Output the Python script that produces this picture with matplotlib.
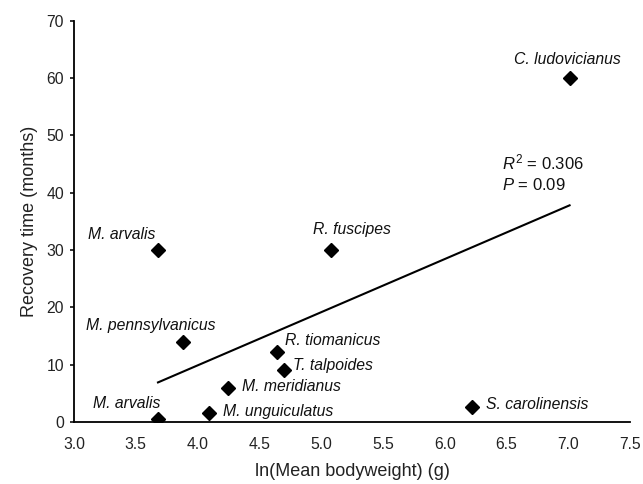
import numpy as np
import matplotlib
matplotlib.use("Agg")
import matplotlib.pyplot as plt

plt.rcParams['font.family'] = ['Liberation Sans', 'DejaVu Sans']
plt.rcParams['mathtext.fontset'] = 'custom'
plt.rcParams['mathtext.rm'] = 'Liberation Sans'
plt.rcParams['mathtext.it'] = 'Liberation Sans:italic'

# species data
species = ['M. arvalis', 'M. arvalis', 'M. pennsylvanicus', 'M. unguiculatus',
           'M. meridianus', 'R. tiomanicus', 'T. talpoides', 'R. fuscipes',
           'S. carolinensis', 'C. ludovicianus']
log_weight = [3.68, 3.68, 3.88, 4.09, 4.25, 4.64, 4.70, 5.08, 6.22, 7.01]
recovery = [30, 0.5, 14, 1.6, 6, 12.2, 9, 30, 2.6, 60]

# label anchor (x, y, ha, va)
label_pos = [(3.39, 31.4, 'center', 'bottom'),
             (3.43, 2.0, 'center', 'bottom'),
             (3.62, 15.5, 'center', 'bottom'),
             (4.21, 1.9, 'left', 'center'),
             (4.36, 6.2, 'left', 'center'),
             (4.71, 14.3, 'left', 'center'),
             (4.77, 9.95, 'left', 'center'),
             (5.25, 32.2, 'center', 'bottom'),
             (6.33, 3.1, 'left', 'center'),
             (6.99, 62.0, 'center', 'bottom')]

fig = plt.figure(figsize=(6.43, 4.84), dpi=100)
ax = fig.add_axes([0.115, 0.128, 0.865, 0.829])

ax.plot(log_weight, recovery, 'D', color='black', markersize=7)

# linear fit
slope, intercept = np.polyfit(log_weight, recovery, 1)
fx = np.array([min(log_weight), max(log_weight)])
ax.plot(fx, slope * fx + intercept, color='black', lw=1.5)

for name, (x, y, ha, va) in zip(species, label_pos):
    ax.text(x, y, name, style='italic', fontsize=11.3, ha=ha, va=va, color='#111111')

ax.text(6.46, 45.3, '$R^2$ = 0.306', fontsize=12, va='center', color='#111111')
ax.text(6.46, 41.3, '$P$ = 0.09', fontsize=12, va='center', color='#111111')

ax.set_xlim(3.0, 7.5)
ax.set_ylim(0, 70)
ax.set_xticks(np.arange(3.0, 7.51, 0.5))
ax.set_xticklabels(['%.1f' % v for v in np.arange(3.0, 7.51, 0.5)])
ax.set_yticks(range(0, 71, 10))
ax.spines['top'].set_visible(False)
ax.spines['right'].set_visible(False)
ax.spines['left'].set_linewidth(1.3)
ax.spines['bottom'].set_linewidth(1.3)
ax.tick_params(direction='out', length=3, width=1.3, labelsize=11.3, colors='#222222')
ax.tick_params(axis='x', length=0, pad=11)
ax.tick_params(axis='y', pad=4)
ax.set_xlabel('ln(Mean bodyweight) (g)', fontsize=13, labelpad=8, color='#222222')
ax.set_ylabel('Recovery time (months)', fontsize=13, labelpad=6, color='#222222')

fig.savefig('out.png', dpi=100)
